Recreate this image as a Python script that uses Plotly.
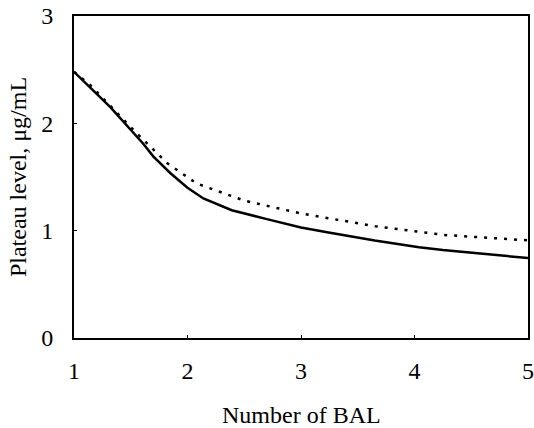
import plotly.graph_objects as go

# Data
solid_x = [1.0, 1.32, 1.61, 1.70, 1.85, 2.0, 2.14, 2.39, 2.69, 3.0, 3.23, 3.65, 4.04, 4.25, 5.0]
solid_y = [2.48, 2.15, 1.81, 1.69, 1.535, 1.40, 1.30, 1.19, 1.11, 1.03, 0.985, 0.908, 0.846, 0.82, 0.745]
dotted_x = [1.0, 1.14, 1.55, 1.82, 2.08, 2.5, 3.0, 3.66, 4.26, 5.0]
dotted_y = [2.48, 2.36, 1.91, 1.63, 1.44, 1.28, 1.16, 1.04, 0.96, 0.91]

x_ticks = [1, 2, 3, 4, 5]
y_ticks = [0, 1, 2, 3]
x_title = "Number of BAL"
y_title = "Plateau level, μg/mL"

FONT = "Liberation Serif, Times New Roman, serif"

fig = go.Figure()
fig.add_trace(go.Scatter(x=dotted_x, y=dotted_y, mode="lines",
                         line=dict(color="black", width=2.5, dash="3px,7px"),
                         showlegend=False))
fig.add_trace(go.Scatter(x=solid_x, y=solid_y, mode="lines",
                         line=dict(color="black", width=2.5),
                         showlegend=False))

fig.update_layout(
    width=534, height=428,
    margin=dict(l=74, r=6, t=16, b=90),
    paper_bgcolor="white", plot_bgcolor="white",
    font=dict(family=FONT, size=24, color="black"),
)
fig.update_xaxes(range=[1, 5], tickvals=x_ticks, ticktext=[str(v) for v in x_ticks],
                 showgrid=False, zeroline=False, showline=True, linecolor="black",
                 linewidth=2, mirror=True, ticks="inside", ticklen=3, tickcolor="black",
                 ticklabelstandoff=10, automargin=False)
fig.update_yaxes(range=[0, 3], tickvals=y_ticks, ticktext=[str(v) for v in y_ticks],
                 showgrid=False, zeroline=False, showline=True, linecolor="black",
                 linewidth=2, mirror=True, ticks="inside", ticklen=3, tickcolor="black",
                 ticklabelstandoff=14, automargin=False,
                 title=dict(text=y_title, font=dict(size=24), standoff=8))

fig.add_annotation(text=x_title, xref="paper", yref="paper", x=0.5, y=0,
                   xanchor="center", yanchor="middle", yshift=-77, showarrow=False,
                   font=dict(family=FONT, size=24, color="black"))

fig.write_html("out.html", config={"displayModeBar": False},
               post_script="document.body.style.margin='0';document.body.style.overflow='hidden';")
